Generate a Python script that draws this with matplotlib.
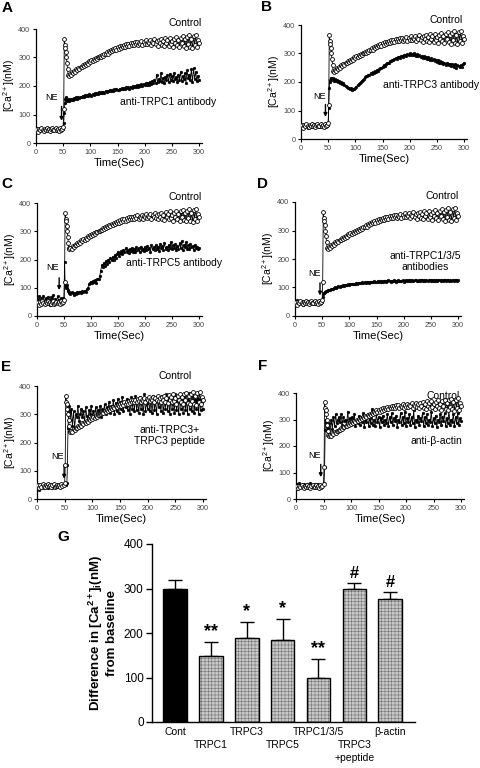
import matplotlib
matplotlib.use("Agg")
import matplotlib.pyplot as plt

plt.rcParams['font.family'] = ['Liberation Sans', 'DejaVu Sans']
plt.rcParams['mathtext.fontset'] = 'custom'
plt.rcParams['mathtext.rm'] = 'Liberation Sans'
plt.rcParams['mathtext.it'] = 'Liberation Sans:italic'
plt.rcParams['mathtext.bf'] = 'Liberation Sans:bold'

# ---------------- time-course data (sample times in s) ----------------
time_s = (list(range(0, 50, 2)) + [50, 51, 52, 53, 54, 55, 56, 57, 58, 59]
          + list(range(60, 302, 2)))

control = [42, 48, 40, 50, 44, 52, 46, 43, 50, 47, 52, 45, 50, 41, 48, 53, 44, 47, 51, 45, 49, 43, 52, 46, 50,
           55, 120, 365, 345, 335, 320, 300, 280, 258, 240,
           236, 242, 238, 248, 245, 252, 250, 258, 255, 262,
           260, 268, 265, 272, 270, 276, 274, 282, 278, 286,
           284, 290, 288, 295, 292, 298, 296, 302, 300, 306,
           303, 310, 307, 314, 311, 318, 314, 322, 318, 326,
           322, 330, 325, 334, 328, 336, 330, 340, 333, 342,
           336, 344, 338, 347, 340, 349, 342, 350, 344, 352,
           345, 353, 347, 356, 343, 352, 348, 358, 345, 354,
           349, 360, 346, 355, 350, 362, 344, 356, 351, 364,
           347, 358, 342, 362, 350, 366, 345, 357, 340, 368,
           350, 362, 342, 370, 348, 358, 338, 366, 352, 372,
           344, 360, 336, 370, 350, 375, 340, 364, 335, 372,
           348, 378, 338, 366, 332, 374, 345, 380, 336, 362,
           350]

anti_trpc1 = [45, 50, 42, 48, 52, 44, 47, 50, 43, 48, 46, 52, 48, 44, 50, 47, 53, 45, 49, 42, 51, 46, 50, 44, 48,
              50, 70, 105, 140, 155, 160, 152, 148, 155, 150,
              148, 153, 150, 156, 152, 158, 154, 160, 156, 162,
              158, 163, 160, 166, 162, 168, 164, 170, 166, 172,
              168, 165, 172, 170, 174, 171, 176, 173, 178, 175,
              178, 176, 180, 177, 182, 179, 184, 181, 186, 183,
              186, 184, 188, 185, 190, 187, 186, 191, 188, 192,
              189, 194, 190, 196, 192, 195, 191, 197, 193, 199,
              195, 200, 196, 202, 198, 204, 199, 206, 200, 208,
              202, 210, 204, 212, 205, 215, 208, 218, 210, 222,
              212, 240, 214, 225, 218, 245, 215, 228, 210, 232,
              220, 238, 215, 242, 222, 236, 218, 245, 225, 232,
              215, 240, 222, 250, 218, 235, 225, 245, 212, 255,
              228, 240, 220, 258, 215, 262, 225, 250, 218, 235,
              222]

anti_trpc3 = [40, 45, 42, 48, 44, 46, 40, 47, 43, 49, 45, 42, 48, 41, 46, 44, 50, 43, 47, 42, 48, 45, 44, 49, 46,
              48, 110, 180, 200, 208, 215, 212, 210, 214, 208,
              205, 210, 202, 207, 200, 204, 197, 200, 194, 196,
              190, 186, 182, 178, 180, 175, 178, 172, 176, 174,
              180, 184, 188, 192, 196, 200, 205, 208, 212, 216,
              220, 222, 226, 224, 230, 228, 234, 232, 238, 236,
              242, 240, 246, 250, 248, 254, 258, 256, 262, 265,
              268, 266, 272, 274, 278, 276, 282, 284, 280, 286,
              288, 284, 290, 292, 288, 294, 296, 292, 298, 295,
              300, 296, 298, 294, 302, 296, 292, 298, 290, 294,
              288, 292, 285, 290, 284, 288, 280, 286, 282, 278,
              284, 276, 280, 274, 278, 270, 276, 268, 272, 266,
              270, 264, 268, 260, 266, 262, 258, 264, 256, 262,
              258, 254, 262, 250, 258, 256, 252, 260, 254, 262,
              268]

anti_trpc5 = [60, 45, 70, 42, 65, 48, 72, 50, 62, 45, 68, 55, 40, 66, 52, 74, 44, 60, 48, 70, 55, 42, 64, 50, 62,
              58, 190, 120, 105, 100, 110, 98, 92, 88, 85,
              82, 78, 84, 80, 76, 82, 78, 85, 80, 84,
              86, 82, 88, 85, 90, 86, 94, 98, 112, 118,
              122, 116, 125, 120, 128, 118, 132, 130, 140, 160,
              180, 172, 188, 178, 195, 185, 200, 192, 205, 198,
              210, 200, 215, 205, 220, 228, 212, 222, 230, 218,
              235, 225, 240, 228, 232, 222, 238, 230, 242, 226,
              236, 228, 244, 232, 240, 226, 246, 234, 238, 230,
              245, 232, 248, 236, 242, 228, 250, 238, 244, 232,
              252, 236, 246, 230, 255, 240, 248, 234, 258, 238,
              246, 232, 252, 240, 262, 236, 250, 242, 256, 234,
              248, 238, 258, 242, 265, 235, 252, 244, 262, 238,
              250, 236, 256, 244, 248, 232, 252, 240, 246, 236,
              242]

anti_trpc135 = [48, 40, 55, 42, 50, 45, 52, 40, 47, 50, 44, 48, 46, 53, 41, 49, 45, 51, 43, 48, 54, 42, 47, 50, 46,
                50, 65, 78, 80, 82, 84, 85, 86, 87, 88,
                90, 92, 91, 94, 96, 95, 98, 100, 99, 102,
                104, 103, 106, 105, 108, 107, 109, 110, 108, 111,
                110, 112, 113, 111, 114, 113, 115, 114, 116, 115,
                117, 115, 118, 116, 119, 117, 118, 120, 117, 119,
                121, 118, 120, 122, 119, 121, 123, 120, 122, 121,
                123, 120, 122, 124, 121, 123, 125, 122, 121, 124,
                122, 125, 123, 121, 124, 126, 122, 124, 123, 125,
                121, 124, 126, 123, 125, 122, 127, 124, 126, 123,
                125, 127, 122, 124, 126, 123, 128, 125, 122, 126,
                124, 127, 123, 125, 128, 122, 126, 124, 127, 123,
                126, 122, 128, 125, 123, 127, 124, 126, 128, 123,
                125, 127, 122, 126, 124, 128, 123, 126, 125, 122,
                126]

anti_trpc3_peptide = [35, 40, 32, 45, 38, 42, 40, 45, 42, 48, 38, 44, 41, 46, 40, 45, 43, 47, 42, 48, 44, 46, 45, 49, 48,
                      50, 48, 50, 52, 55, 120, 250, 300, 330, 310,
                      280, 320, 260, 310, 250, 300, 290, 330, 275, 300,
                      320, 290, 310, 270, 325, 295, 280, 315, 300, 330,
                      290, 310, 285, 325, 295, 315, 300, 330, 290, 320,
                      305, 335, 300, 325, 310, 345, 305, 330, 315, 350,
                      300, 340, 310, 355, 305, 345, 320, 360, 310, 340,
                      325, 355, 315, 345, 300, 360, 320, 350, 310, 365,
                      315, 345, 305, 360, 320, 350, 300, 370, 310, 340,
                      320, 355, 310, 350, 305, 365, 315, 345, 300, 360,
                      325, 350, 310, 365, 305, 345, 320, 370, 310, 355,
                      300, 360, 320, 350, 305, 370, 315, 345, 300, 365,
                      320, 355, 305, 360, 315, 350, 300, 375, 320, 345,
                      310, 365, 305, 350, 320, 370, 300, 355, 315, 345,
                      320]

anti_bactin = [45, 55, 40, 60, 48, 52, 45, 58, 50, 47, 55, 50, 42, 62, 48, 54, 46, 57, 50, 44, 56, 49, 53, 47, 52,
               55, 60, 120, 260, 300, 290, 270, 255, 250, 265,
               285, 250, 300, 265, 310, 275, 320, 285, 300, 310,
               290, 320, 280, 310, 295, 300, 275, 330, 290, 305,
               285, 310, 290, 320, 275, 300, 285, 315, 280, 310,
               290, 325, 270, 300, 290, 320, 275, 305, 285, 340,
               280, 300, 275, 320, 290, 310, 270, 305, 290, 315,
               280, 300, 285, 320, 275, 310, 290, 325, 280, 305,
               295, 315, 270, 300, 290, 325, 280, 310, 285, 330,
               275, 305, 290, 320, 280, 310, 285, 335, 270, 300,
               290, 315, 280, 305, 295, 325, 275, 310, 285, 320,
               280, 300, 290, 330, 275, 305, 285, 315, 270, 300,
               290, 320, 280, 310, 295, 325, 275, 305, 285, 335,
               280, 300, 290, 320, 275, 310, 285, 325, 280, 305,
               295]

# ---------------- bar data ----------------
bar_labels = ['Cont', 'TRPC1', 'TRPC3', 'TRPC5', 'TRPC1/3/5', 'TRPC3\n+peptide', '\u03b2-actin']
bar_means = [298, 149, 188, 184, 99, 298, 277]
bar_errs = [20, 31, 36, 48, 43, 14, 15]
bar_marks = ['', '**', '*', '*', '**', '#', '#']

W, H = 480, 768
fig = plt.figure(figsize=(W / 100, H / 100), dpi=100)


def add_ax(left, right, bottom, top):
    return fig.add_axes([left / W, 1 - bottom / H, (right - left) / W, (bottom - top) / H])


panels = [
    ('A', (36, 199, 143, 29), anti_trpc1, 'anti-TRPC1 antibody', (243, 145), (274, 420), (29, 158), 47, 138, 68, (2, 8)),
    ('B', (301, 464, 139, 25), anti_trpc3, 'anti-TRPC3 antibody', (240, 189), (268, 418), (34, 148), 45, 131, 68, (261, 7)),
    ('C', (37, 199, 316, 203), anti_trpc5, 'anti-TRPC5 antibody', (254, 186), (274, 422), (29, 172), 41, 145, 82, (1, 184)),
    ('D', (295, 458, 316, 202), anti_trpc135, 'anti-TRPC1/3/5\nantibodies', (239, 190), (270, 421), (35, 150), 46, 126, 62, (257, 184)),
    ('E', (37, 203, 499, 386), anti_trpc3_peptide, 'anti-TRPC3+\nTRPC3 peptide', (240, 226), (249, 437), (37, 150), 49, 128, 62, (1, 367)),
    ('F', (296, 461, 499, 393), anti_bactin, 'anti-\u03b2-actin', (256, 220), (268, 388), (33, 163), 45, 141, 72, (258, 366)),
]

for letter, (l, r300, b, t), treat, lab, lab_xy, ctl_xy, ne_xy, ax_x, ay0, ay1, let_xy in panels:
    r = l + (r300 - l) * 306 / 300
    ax = add_ax(l, r, b, t)
    ax.plot(time_s, treat, color='black', lw=0.6, marker='o', ms=2.0,
            mfc='black', mec='black', mew=0.3, zorder=3)
    ax.plot(time_s, control, color='black', lw=0.6, marker='o', ms=2.8,
            mfc='white', mec='black', mew=0.6, zorder=4)
    ax.set_xlim(0, 306)
    ax.set_ylim(0, 400)
    ax.set_xticks([0, 50, 100, 150, 200, 250, 300])
    ax.set_yticks([0, 100, 200, 300, 400])
    for s in ['top', 'right']:
        ax.spines[s].set_visible(False)
    for s in ['left', 'bottom']:
        ax.spines[s].set_linewidth(0.9)
    ax.tick_params(axis='both', labelsize=5.2, labelcolor='#444444', length=2.5, width=0.8, pad=1.5)
    ax.set_xlabel('Time(Sec)', fontsize=8, labelpad=1.5)
    ax.set_ylabel('[Ca$^{2+}$](nM)', fontsize=7.5, labelpad=1)
    ax.text(ctl_xy[0], ctl_xy[1], 'Control', fontsize=7.5, ha='center', va='center', clip_on=False)
    ax.text(lab_xy[0], lab_xy[1], lab, fontsize=7.5, ha='center', va='center', clip_on=False,
            linespacing=1.1)
    ax.text(ne_xy[0], ne_xy[1], 'NE', fontsize=6.5, ha='center', va='center')
    ax.annotate('', xy=(ax_x, ay1), xytext=(ax_x, ay0),
                arrowprops=dict(arrowstyle='-|>', color='black', lw=1.0, mutation_scale=5))
    fig.text(let_xy[0] / W, 1 - let_xy[1] / H, letter, fontsize=11, fontweight='bold',
             ha='left', va='center')

# ---------------- panel G ----------------
axg = add_ax(152, 415, 722, 544)
plt.rcParams['hatch.linewidth'] = 0.35
for i, (m, e) in enumerate(zip(bar_means, bar_errs)):
    if i == 0:
        axg.bar(i, m, width=0.66, color='black', edgecolor='black', lw=1.0, zorder=2)
    else:
        axg.bar(i, m, width=0.66, color='#c8c8c8', edgecolor='#6a6a6a', hatch='+++++', lw=0, zorder=2)
        axg.bar(i, m, width=0.66, fill=False, edgecolor='black', lw=1.0, zorder=3)
    axg.errorbar(i, m, yerr=[[0], [e]], fmt='none', ecolor='black', elinewidth=1.0,
                 capsize=5, capthick=1.0, zorder=1)
    if bar_marks[i]:
        axg.text(i, m + e + 4, bar_marks[i], ha='center', va='bottom',
                 fontsize=13 if '*' in bar_marks[i] else 12, fontweight='bold')

axg.set_xlim(-0.64, 6.69)
axg.set_ylim(0, 400)
axg.set_yticks([0, 100, 200, 300, 400])
for s in ['top', 'right']:
    axg.spines[s].set_visible(False)
for s in ['left', 'bottom']:
    axg.spines[s].set_linewidth(1.0)
axg.tick_params(axis='y', labelsize=8.5, length=4, width=1.0, pad=2)
axg.set_xticks([])
for i, lab in enumerate(bar_labels):
    y = -12 if i % 2 == 0 else -40
    axg.text(i, y, lab, ha='center', va='top', fontsize=7.5, linespacing=1.4, clip_on=False)
axg.set_ylabel('Difference in [Ca$^{\\mathbf{2+}}$]$_{\\mathbf{i}}$(nM)\nfrom baseline', fontsize=9.5,
               fontweight='bold', labelpad=4, linespacing=1.1)
fig.text(57 / W, 1 - 537 / H, 'G', fontsize=11, fontweight='bold', ha='left', va='center')

fig.savefig('out.png', dpi=100)
